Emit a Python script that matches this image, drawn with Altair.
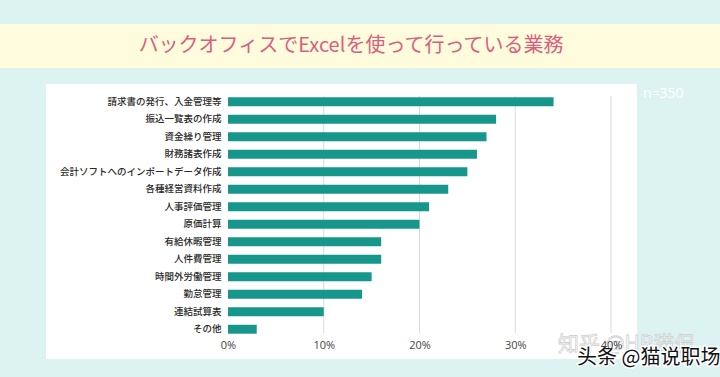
import altair as alt
import pandas as pd

categories = [
    "請求書の発行、入金管理等",
    "振込一覧表の作成",
    "資金繰り管理",
    "財務諸表作成",
    "会計ソフトへのインポートデータ作成",
    "各種経営資料作成",
    "人事評価管理",
    "原価計算",
    "有給休暇管理",
    "人件費管理",
    "時間外労働管理",
    "勤怠管理",
    "連結試算表",
    "その他",
]
values = [34, 28, 27, 26, 25, 23, 21, 20, 16, 16, 15, 14, 10, 3]
tick_values = [0, 10, 20, 30, 40]
grid_values = [10, 20, 30, 40]
title_text = "バックオフィスでExcelを使って行っている業務"
note_text = "n=350"
watermark1 = "知乎 @HR猫侃"
watermark2 = "头条 @猫说职场"

df = pd.DataFrame({"category": categories, "value": values})
grid_df = pd.DataFrame({"v": grid_values})

TEAL = "#17978b"
BG = "#ddf3f2"
YELLOW = "#fffcdd"
PINK = "#d95f7e"
JP = "Noto Sans CJK JP"

xscale = alt.Scale(domain=[0, 40], nice=False, zero=True)
x_axis = alt.Axis(
    values=tick_values,
    labelExpr="datum.value + '%'",
    grid=False,
    domain=False,
    ticks=False,
    title=None,
    labelFont="Open Sans",
    labelFontSize=11,
    labelColor="#444444",
    labelPadding=1,
    labelFlush=False,
    labelAlign="center",
    zindex=1,
)
one = alt.Data(values=[{}])

yellow_band = alt.Chart(one).mark_rect(color=YELLOW).encode(
    x=alt.value(-228), x2=alt.value(492), y=alt.value(-69), y2=alt.value(-25)
)
white_panel = alt.Chart(one).mark_rect(color="#ffffff").encode(
    x=alt.value(-182), x2=alt.value(409), y=alt.value(-9), y2=alt.value(266)
)
title = alt.Chart(one).mark_text(
    font=JP, fontSize=20, color=PINK, align="center", baseline="middle"
).encode(x=alt.value(123), y=alt.value(-47), text=alt.value(title_text))

grid = alt.Chart(grid_df).mark_rule(color="#dadada", strokeWidth=1).encode(
    x=alt.X("v:Q", scale=xscale, axis=x_axis),
    y=alt.value(3),
    y2=alt.value(240),
)

bars = alt.Chart(df).mark_bar(color=TEAL).encode(
    x=alt.X("value:Q", scale=xscale, axis=x_axis),
    y=alt.Y(
        "category:N",
        sort=categories,
        scale=alt.Scale(paddingInner=0.49, paddingOuter=0.245),
        axis=alt.Axis(
            title=None,
            domain=False,
            ticks=False,
            grid=False,
            labelFont=JP,
            labelFontSize=9.5,
            labelFontWeight=500,
            labelColor="#2a2a2a",
            labelPadding=7,
            labelLimit=300,
            zindex=1,
        ),
    ),
)

note = alt.Chart(one).mark_text(
    font="Open Sans", fontSize=14, color="#ffffff", align="left", baseline="middle"
).encode(x=alt.value(415), y=alt.value(1), text=alt.value(note_text))

wm1 = alt.Chart(one).mark_text(
    font="Noto Sans CJK SC", fontSize=21, fill="#ffffff", stroke="#c8c8c8",
    strokeWidth=0.8, align="left", baseline="middle", opacity=0.8,
).encode(x=alt.value(330), y=alt.value(252), text=alt.value(watermark1))

wm2_outline = alt.Chart(one).mark_text(
    font="Noto Sans CJK SC", fontSize=20, fill="#ffffff", stroke="#ffffff",
    strokeWidth=3, align="left", baseline="middle",
).encode(x=alt.value(349), y=alt.value(265), text=alt.value(watermark2))
wm2 = alt.Chart(one).mark_text(
    font="Noto Sans CJK SC", fontSize=20, color="#111111",
    align="left", baseline="middle",
).encode(x=alt.value(349), y=alt.value(265), text=alt.value(watermark2))

chart = alt.layer(
    yellow_band, white_panel, title, grid, bars, note, wm1, wm2_outline, wm2
).properties(
    width=383,
    height=245,
    autosize=alt.AutoSizeParams(type="none"),
    padding={"left": 228, "top": 93, "right": 109, "bottom": 39},
    background=BG,
).configure_view(stroke=None)

chart.save("out.html", embed_options={"renderer": "svg", "actions": False})
